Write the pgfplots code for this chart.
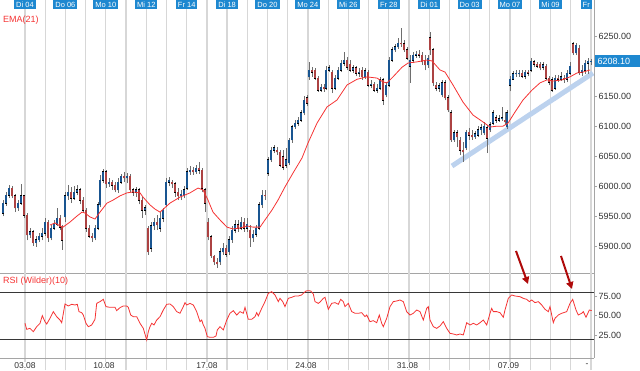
\documentclass[border=0pt]{standalone}
\usepackage{fontspec}
\setmainfont{Liberation Sans}
\usepackage{pgfplots}
\usepackage{pgfplotstable}
\pgfplotsset{compat=1.18}
\usetikzlibrary{arrows.meta}
\definecolor{gridc}{RGB}{215,215,215}
\definecolor{sepc}{RGB}{165,165,165}
\definecolor{hlc}{RGB}{55,55,55}
\definecolor{boxblue}{RGB}{30,136,208}
\definecolor{emac}{RGB}{245,50,50}
\definecolor{upc}{RGB}{25,85,145}
\definecolor{dnc}{RGB}{172,66,66}
\definecolor{wickc}{RGB}{110,110,110}
\definecolor{trendc}{RGB}{188,210,238}
\definecolor{arrowc}{RGB}{175,10,10}
\definecolor{labc}{RGB}{50,50,50}
\newcommand\tfont{\fontsize{9}{10}\selectfont}
\newcommand\boxfont{\fontsize{7.5}{8}\selectfont}

\pgfplotstableread{
x o h l c
3 5955 5977 5950 5972
6 5972 5990 5967 5985
9 5985 6002 5980 5997
12 5997 6000 5980 5984
15 5984 5987 5957 5964
18 5964 5977 5959 5972
21 5972 6004 5969 5984
24 5984 5985 5947 5952
27 5952 5955 5910 5919
30 5919 5930 5914 5924
33 5924 5927 5901 5906
36 5906 5917 5899 5911
39 5911 5922 5907 5917
42 5917 5930 5910 5922
45 5922 5947 5917 5940
48 5940 5944 5907 5914
51 5914 5935 5910 5930
54 5930 5944 5927 5937
57 5937 5964 5934 5947
60 5947 5952 5927 5932
62 5932 5935 5894 5910
65 5949 5990 5940 5984
68 5984 6002 5977 5990
71 5990 5999 5972 5980
74 5980 6000 5977 5990
77 5990 6002 5985 5994
80 5994 5997 5970 5977
83 5977 5982 5957 5960
86 5960 5964 5924 5930
89 5930 5935 5914 5917
92 5917 5922 5907 5914
95 5914 5935 5910 5930
98 5930 5974 5927 5969
100 5969 6019 5965 6010
103 6010 6029 6005 6024
106 6024 6027 5997 6004
109 6004 6014 5999 6007
112 6007 6010 5994 6002
115 6002 6007 5990 5994
118 5994 6014 5989 6007
121 6007 6020 6004 6017
124 6017 6024 6007 6014
127 6014 6022 6005 6017
130 6017 6020 5990 5994
133 5994 5997 5984 5990
136 5990 5999 5982 5994
139 5994 5997 5970 5977
142 5977 5982 5947 5960
145 5960 5969 5952 5964
148 5930 5934 5886 5891
151 5897 5940 5891 5934
154 5934 5947 5927 5940
157 5940 5952 5927 5936
160 5930 5957 5924 5947
163 5947 5964 5940 5960
166 5969 6014 5965 6007
169 6007 6015 6000 6010
172 6007 6010 5997 6004
175 6004 6007 5982 5990
178 5990 5997 5977 5984
181 5984 5994 5977 5987
184 5984 6000 5980 5994
187 5997 6030 5994 6024
190 6024 6034 6019 6027
193 6027 6032 6019 6024
196 6024 6035 6020 6030
199 6030 6040 6020 6027
202 6027 6030 5990 5997
205 5994 5997 5957 5972
208 5940 5947 5910 5916
211 5916 5919 5881 5884
214 5884 5886 5869 5874
217 5874 5881 5864 5871
220 5874 5897 5869 5891
223 5891 5905 5886 5897
226 5897 5902 5882 5887
229 5891 5917 5886 5911
232 5911 5934 5906 5927
235 5927 5944 5922 5936
238 5936 5944 5924 5930
241 5930 5949 5927 5940
244 5940 5947 5924 5930
247 5930 5947 5924 5937
250 5927 5936 5899 5914
253 5914 5927 5907 5920
256 5920 5936 5916 5930
259 5930 5974 5927 5969
262 5969 5994 5964 5985
265 5985 5994 5977 5984
268 6022 6049 6017 6044
271 6044 6065 6040 6060
274 6060 6069 6055 6064
277 6060 6065 6052 6057
280 6057 6060 6032 6035
283 6049 6060 6027 6032
286 6035 6064 6030 6044
289 6039 6080 6035 6077
292 6077 6102 6072 6099
295 6099 6110 6095 6105
298 6105 6115 6100 6110
301 6110 6127 6107 6122
304 6122 6150 6118 6143
307 6147 6152 6133 6138
309 6182 6207 6177 6193
312 6193 6198 6182 6190
315 6193 6197 6177 6180
318 6180 6183 6157 6160
321 6160 6170 6157 6165
324 6165 6170 6157 6162
326 6163 6200 6160 6193
329 6193 6202 6190 6197
332 6190 6193 6155 6163
335 6163 6185 6160 6180
338 6180 6198 6177 6193
341 6193 6210 6190 6205
344 6205 6223 6200 6210
347 6210 6215 6193 6198
350 6203 6210 6190 6193
353 6193 6202 6188 6197
356 6197 6200 6183 6188
359 6188 6197 6182 6190
362 6193 6198 6177 6182
365 6182 6197 6178 6192
368 6190 6193 6165 6168
371 6168 6177 6163 6170
374 6170 6173 6157 6160
377 6160 6170 6155 6163
380 6163 6182 6160 6177
383 6177 6180 6135 6143
386 6152 6173 6148 6168
389 6168 6215 6165 6210
392 6210 6232 6207 6227
395 6227 6237 6223 6232
398 6232 6247 6228 6238
401 6238 6263 6232 6237
404 6237 6243 6223 6227
407 6227 6232 6210 6213
410 6200 6218 6172 6210
413 6210 6223 6205 6218
416 6218 6225 6213 6220
419 6220 6227 6213 6218
422 6218 6223 6202 6207
425 6210 6218 6193 6202
428 6202 6218 6197 6213
430 6247 6257 6218 6227
433 6227 6230 6167 6172
436 6168 6173 6158 6163
439 6163 6172 6157 6167
442 6152 6177 6148 6172
445 6172 6177 6143 6147
448 6147 6152 6123 6127
451 6122 6127 6074 6077
454 6077 6094 6074 6089
457 6089 6094 6065 6082
460 6077 6082 6052 6060
463 6060 6074 6040 6057
466 6064 6094 6060 6090
469 6090 6097 6077 6085
472 6085 6094 6077 6082
475 6082 6092 6079 6087
478 6085 6100 6082 6094
481 6094 6104 6085 6097
484 6089 6107 6085 6100
487 6097 6102 6055 6080
490 6094 6107 6090 6102
493 6105 6127 6102 6122
496 6114 6119 6105 6110
499 6110 6119 6107 6112
502 6112 6132 6109 6114
505 6110 6124 6102 6107
507 6099 6127 6095 6122
510 6168 6183 6158 6178
513 6178 6192 6177 6187
516 6187 6193 6182 6188
519 6187 6193 6182 6188
522 6188 6193 6180 6183
525 6183 6193 6178 6190
528 6190 6193 6183 6188
531 6193 6213 6190 6208
534 6207 6210 6198 6203
537 6203 6207 6197 6200
540 6203 6207 6193 6197
543 6198 6207 6193 6202
546 6200 6203 6177 6180
549 6180 6183 6168 6173
552 6177 6182 6157 6160
555 6163 6185 6160 6180
558 6180 6185 6173 6178
561 6178 6190 6175 6182
564 6180 6185 6172 6177
567 6178 6193 6173 6188
570 6188 6207 6185 6200
573 6237 6240 6218 6222
576 6222 6238 6218 6235
579 6230 6235 6185 6190
582 6190 6202 6183 6193
585 6193 6210 6187 6205
588 6205 6213 6187 6208
591 6208 6212 6202 6208.1
}\candles

\pgfplotstableread{
x e
50 5935.5
55 5939
60 5934
63 5932
70 5940.5
77 5950.5
82 5957
85 5955.5
90 5949
95 5945.5
100 5957
107 5972
113 5977
120 5984
127 5989
133 5990.5
140 5989
143 5982
150 5969
155 5962
160 5957
170 5972
180 5982
190 5989
198 5997
203 5994
208 5977
213 5957
220 5944
227 5932
233 5929
240 5930.5
247 5934
253 5932
260 5932
265 5944
272 5960.5
278 5977
285 5999
293 6022
302 6047
308 6072
317 6105
327 6132
337 6143.5
347 6168.5
357 6178
367 6182
377 6180
383 6173.5
387 6172
393 6182
402 6198
408 6205
417 6207
427 6210
432 6208.5
440 6193.5
445 6190
453 6168.5
463 6140
473 6118.5
483 6107
490 6098.5
497 6100
503 6100
508 6105
515 6123.5
523 6143.5
532 6160
540 6172
547 6177
553 6175
562 6177
570 6182
577 6188.5
583 6190
590 6193.5
}\ema

\pgfplotstableread{
x r
25 40.4
26.7 32.7
30 34.0
33.3 29.7
36.7 36.1
40 40.4
42.3 50.2
45 42.5
46.7 39.5
50 46.8
53.3 55.3
56.7 48.9
60 44.6
61.7 41.2
65 65.1
68.3 62.5
71.7 64.7
75 63.8
77.3 64.7
79 55.3
81.7 54.0
83.3 51.0
86 40.4
88.3 36.1
91.7 38.3
95 45.5
96.7 65.9
100 68.1
103.3 71.0
106 61.7
110 60.8
115 60.8
116.7 56.6
120 60.4
123.3 62.5
126.7 62.5
128.3 60.8
130.7 51.0
133.3 48.9
136.7 48.9
140 40.4
143.3 34.0
146.7 19.1
148.3 29.7
150 36.1
151.7 40.4
154 38.3
156.7 44.6
160 48.9
163.3 57.4
166.7 64.7
170 65.1
173.3 61.7
176.7 55.3
180 53.2
183.3 61.7
185 66.8
186.7 63.8
190 65.9
193.3 63.8
196.7 55.3
200 42.5
201.7 44.6
203.3 38.3
205 34.0
207.3 23.4
210 22.5
213.3 22.5
216 24.2
217.3 31.9
220 36.1
223.3 31.9
226.7 44.6
230 53.2
233.3 56.6
236.7 51.0
240 55.3
243.3 53.2
245 60.8
248.3 45.5
251.7 45.5
255 48.9
256.7 54.0
258.3 49.8
261.7 59.5
265 68.1
268.3 78.7
271.7 80.8
275 76.6
278.3 68.1
280 72.3
282.7 68.1
285 61.7
288.3 72.3
291.7 73.6
295 75.3
298.3 75.3
301.7 76.6
303.3 78.7
306 81.7
308.3 82.1
310.7 81.7
313.3 77.9
315 68.1
318.3 65.9
320 67.5
323.3 72.3
325 73.6
328.3 58.3
331.7 65.9
335 66.8
338.3 64.7
340.7 71.0
343.3 68.1
345 61.7
348.3 65.9
351.7 55.3
355 53.2
358.3 53.2
361.7 54.0
365 48.9
366.7 51.0
370 42.5
373.3 43.8
376.7 41.2
379.3 51.0
381.7 40.4
383.3 36.1
386.7 46.8
390 61.7
393.3 68.1
396.7 68.9
400 70.2
403.3 68.1
406.7 55.3
410 51.0
413.3 53.2
416.7 57.4
420 55.3
423.3 44.6
426.7 59.5
428.3 61.7
430 44.6
433.3 36.1
436.7 34.0
440 37.0
443.3 42.5
446.7 34.0
450 27.6
453.3 26.8
456.7 25.5
460 26.8
463.3 25.5
466.7 41.2
470 38.3
473.3 40.4
476.7 38.3
480 41.2
483.3 44.6
486.7 38.3
490 53.2
491.7 59.5
493.3 55.3
496.7 55.3
500 54.0
503.3 48.1
505 57.4
508.3 72.3
511.7 76.6
515 75.3
520 74.4
523.3 72.3
526.7 71.0
529.3 68.1
531.7 70.2
535 66.8
538.3 68.1
541.7 63.8
545 58.3
548.3 55.3
550 61.7
553.3 41.2
555 46.8
558.3 51.0
561.7 53.2
566.7 55.3
570 65.9
572.7 71.0
576 57.4
578.3 51.0
581.7 53.2
583.3 55.3
586 48.1
589.3 57.4
591.7 56.6
}\rsi

\pgfplotsset{
  gridticks/.style={xtick={25,45.2,65.4,85.6,105.8,126.1,146.3,166.5,186.7,206.9,227.1,247.3,267.5,287.7,307.9,328.2,348.4,368.6,388.8,409.0,429.2,449.4,469.6,489.8,510.0,530.3,550.5,570.7,590.9},
    xticklabels={}, xmajorgrids, major x grid style={draw=gridc, line width=1.3pt}, xtick style={draw=none}},
  common/.style={scale only axis, width=594pt, xmin=0, xmax=594, clip=false,
    axis line style={draw=none}, anchor=south west,
    ytick pos=right, yticklabel pos=right, tick align=outside, major tick length=3pt,
    ytick style={draw=sepc, line width=0.6pt},
    yticklabel style={font=\tfont, text=labc, inner xsep=1.5pt},
    yticklabel={\pgfmathprintnumber[fixed,fixed zerofill,precision=2,1000 sep={},assume math mode=true]{\tick}}},
  cbar/.style={draw=none, mark=none, forget plot, error bars/y dir=plus, error bars/y explicit, error bars/error mark=none,
    error bars/error bar style={draw=#1, line cap=butt, solid}},
}
\tikzset{datebox/.style={fill=boxblue, text=white, font=\boxfont, inner xsep=2pt, inner ysep=0pt, minimum height=9pt, anchor=north},
  botlab/.style={fill=white, text=labc, font=\fontsize{8.5}{9}\selectfont, inner xsep=1pt, inner ysep=0.5pt}}

\begin{document}
\begin{tikzpicture}
\useasboundingbox (0pt,0pt) rectangle (640pt,370pt);
% ---------------- price panel ----------------
\begin{axis}[common, gridticks, at={(0pt,97pt)}, height=273pt,
  ymin=5855.7, ymax=6309.9, ytick={5900,5950,6000,6050,6100,6150,6250}]
\addplot[trendc, line width=5pt, forget plot] coordinates {(452,6033.7) (593,6188.4)};
% wicks
\addplot[cbar=wickc, error bars/error bar style={line width=0.7pt}]
  table[x=x, y=l, y error plus expr={\thisrow{h}-\thisrow{l}}] {\candles};
% bodies outline
\addplot[cbar=black, error bars/error bar style={line width=2.8pt}]
  table[x=x, y expr={min(\thisrow{o},\thisrow{c})-0.8}, y error plus expr={abs(\thisrow{c}-\thisrow{o})+1.6}] {\candles};
% up bodies
\addplot[restrict expr to domain={\thisrow{c}-\thisrow{o}}{0:10000}, cbar=upc, error bars/error bar style={line width=1.8pt}]
  table[x=x, y=o, y error plus expr={\thisrow{c}-\thisrow{o}}] {\candles};
% down bodies
\addplot[restrict expr to domain={\thisrow{o}-\thisrow{c}}{0.001:10000}, cbar=dnc, error bars/error bar style={line width=1.8pt}]
  table[x=x, y=c, y error plus expr={\thisrow{o}-\thisrow{c}}] {\candles};
% EMA
\addplot[emac, line width=0.8pt, forget plot] table[x=x, y=e] {\ema};
% frame lines
\draw[sepc, line width=0.8pt] (axis cs:0,5855.7) -- (axis cs:594,5855.7);
\draw[sepc, line width=0.8pt] (axis cs:594,5855.7) -- (axis cs:594,6309.9);
% labels
\node[anchor=west, text=emac, font=\tfont, inner sep=0pt] at (axis cs:3,6276.6) {EMA(21)};
\node[fill=boxblue, text=white, font=\tfont, anchor=west, inner xsep=2.5pt, inner ysep=0pt, minimum height=12pt, text width=41pt, align=left] at (axis cs:595,6208.1) {6208.10};
\node[datebox] at (axis cs:25,6309.9) {Di 04};
\node[datebox] at (axis cs:65.4,6309.9) {Do 06};
\node[datebox] at (axis cs:105.8,6309.9) {Mo 10};
\node[datebox] at (axis cs:146.3,6309.9) {Mi 12};
\node[datebox] at (axis cs:186.7,6309.9) {Fr 14};
\node[datebox] at (axis cs:227.1,6309.9) {Di 18};
\node[datebox] at (axis cs:267.5,6309.9) {Do 20};
\node[datebox] at (axis cs:307.9,6309.9) {Mo 24};
\node[datebox] at (axis cs:348.4,6309.9) {Mi 26};
\node[datebox] at (axis cs:388.8,6309.9) {Fr 28};
\node[datebox] at (axis cs:429.2,6309.9) {Di 01};
\node[datebox] at (axis cs:469.6,6309.9) {Do 03};
\node[datebox] at (axis cs:510.0,6309.9) {Mo 07};
\node[datebox] at (axis cs:550.5,6309.9) {Mi 09};
\node[datebox, anchor=north east] at (axis cs:592,6309.9) {Fr};
\end{axis}
% ---------------- RSI panel ----------------
\begin{axis}[common, gridticks, at={(0pt,0pt)}, height=97pt,
  ymin=-19.22, ymax=104.66, ytick={25,50,75}]
\draw[hlc, line width=1pt] (axis cs:0,80) -- (axis cs:594,80);
\draw[hlc, line width=1pt] (axis cs:0,20) -- (axis cs:594,20);
\draw[sepc, line width=0.8pt] (axis cs:0,-3.9) -- (axis cs:594,-3.9);
\draw[sepc, line width=0.8pt] (axis cs:594,-3.9) -- (axis cs:594,104.66);
\addplot[emac, line width=0.8pt, forget plot] table[x=x, y=r] {\rsi};
\node[anchor=west, text=emac, font=\tfont, inner sep=0pt] at (axis cs:3,94.4) {RSI (Wilder)(10)};
\node[botlab] at (axis cs:25,-13.5) {03.08};
\node[botlab] at (axis cs:104,-13.5) {10.08};
\node[botlab] at (axis cs:207,-13.5) {17.08};
\node[botlab] at (axis cs:306,-13.5) {24.08};
\node[botlab] at (axis cs:407.5,-13.5) {31.08};
\node[botlab] at (axis cs:508.5,-13.5) {07.09};
\node[botlab] at (axis cs:587,-13.5) {-};
\draw[arrowc, line width=2pt, -{Triangle[length=7pt,width=7pt]}] (axis cs:516,132.8) -- (axis cs:528,90.6);
\draw[arrowc, line width=2pt, -{Triangle[length=7pt,width=7pt]}] (axis cs:561,126.4) -- (axis cs:572,84.2);
\end{axis}
\end{tikzpicture}
\end{document}
